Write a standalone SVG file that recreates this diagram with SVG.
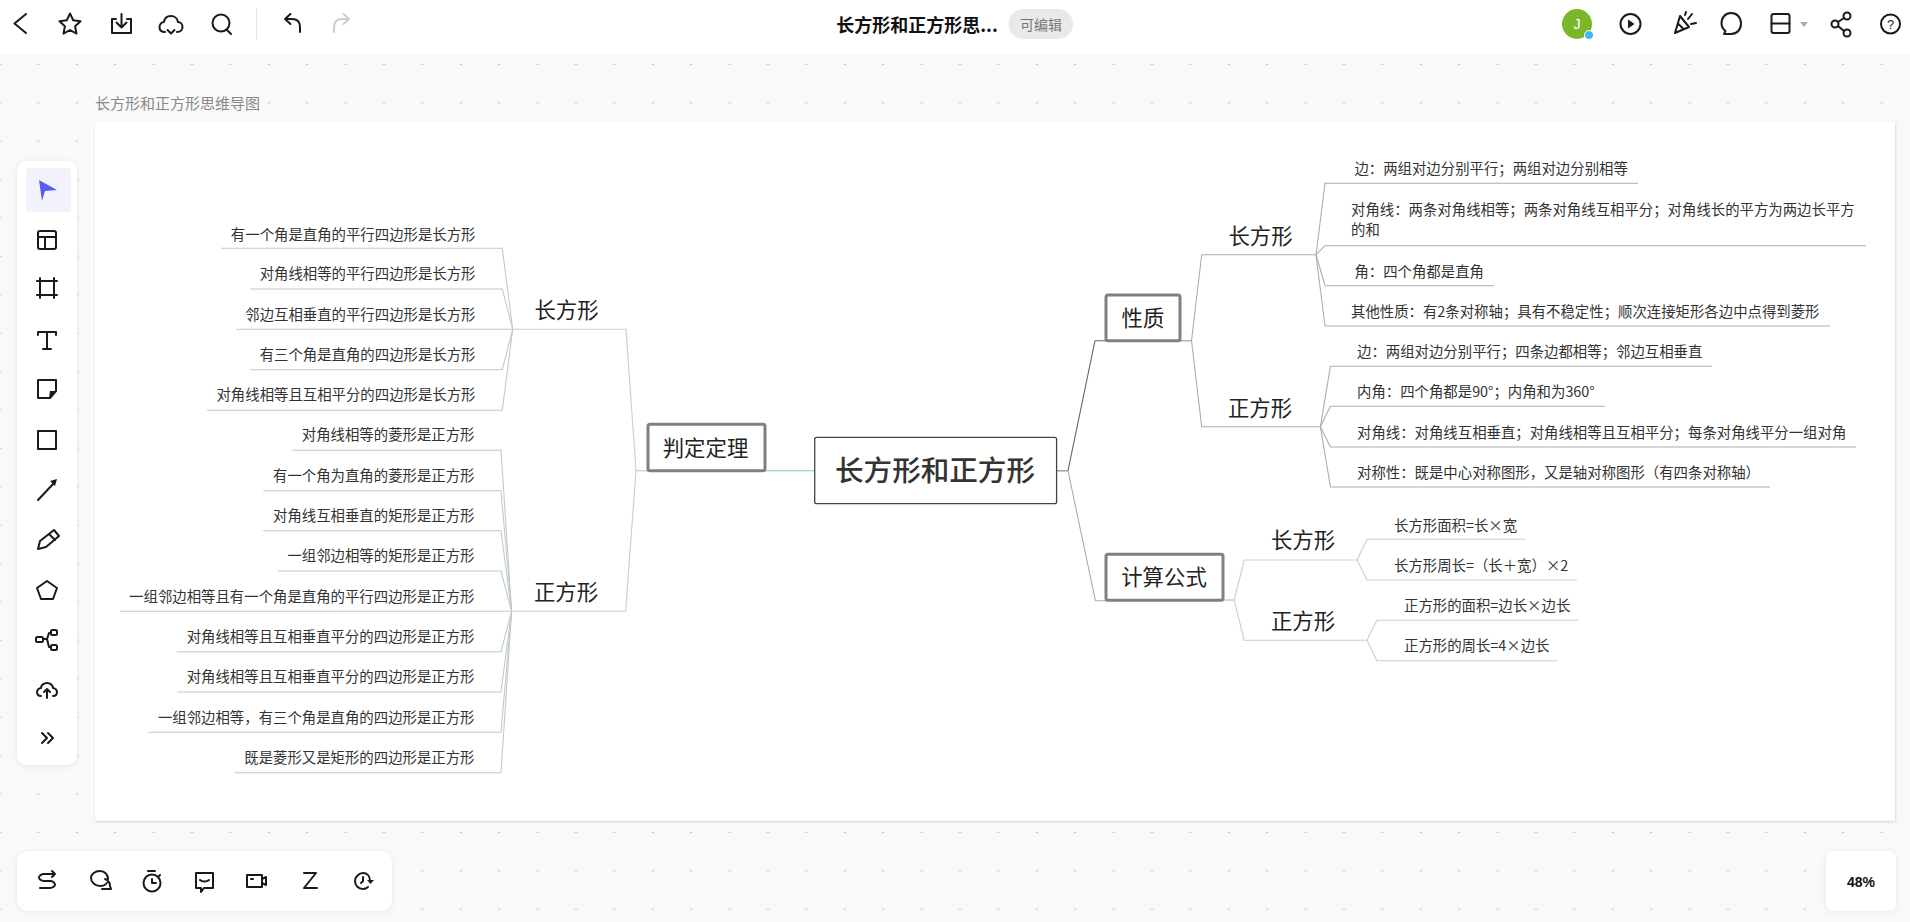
<svg xmlns="http://www.w3.org/2000/svg" width="1910" height="922" viewBox="0 0 1910 922">
<style>
text{font-family:"Noto Sans CJK SC","Liberation Sans",sans-serif;fill:#333;dominant-baseline:central}
.leaf{font-size:14.4px;transform:translateY(-1.8px)}
.end{text-anchor:end}
.mid{text-anchor:middle}
.sub{font-size:21.4px;text-anchor:middle;fill:#222;transform:translateY(-1.8px)}
.top{font-size:21.4px;text-anchor:middle;fill:#222;transform:translateY(-1.5px)}
.box{fill:#fff;stroke:#808080;stroke-width:3}
.root{fill:#fff;stroke:#444;stroke-width:1.3}
.c{fill:none;stroke-width:1.1;stroke-linejoin:round}
.lg{stroke:#c0cbc7}
.lt{stroke:#8fc4b2}
.gr{stroke:#adadad}
.gl{stroke:#cdcdcd}
.dk{stroke:#666}
.ic{fill:none;stroke:#1a1a1a;stroke-width:2;stroke-linecap:round;stroke-linejoin:round}
.ft{fill:#1a1a1a;stroke:none}
.panel{fill:#fff;filter:url(#sh)}
</style>
<defs>
<pattern id="dots" x="0" y="26.6" width="38.4" height="38.4" patternUnits="userSpaceOnUse"><rect x="37.2" y="37.2" width="2.4" height="2.4" fill="#c6c6c6"/><rect x="-1.2" y="37.2" width="2.4" height="2.4" fill="#c6c6c6"/></pattern>
<filter id="sh" x="-20%" y="-20%" width="140%" height="140%"><feDropShadow dx="0" dy="1" stdDeviation="3" flood-color="#000" flood-opacity="0.07"/></filter>
<filter id="sheetsh" x="-2%" y="-2%" width="104%" height="104%"><feDropShadow dx="0.5" dy="1" stdDeviation="1" flood-color="#000" flood-opacity="0.18"/></filter>
</defs>
<rect width="1910" height="922" fill="#f9f9f9"/>
<rect y="54" width="1910" height="868" fill="url(#dots)"/>
<g id="topbar">
<rect width="1910" height="54" fill="#fff"/>
<path class="ic" d="M26 14L14.500 23.500L26 33"/>
<path class="ic" d="M70 13.500l3.200 6.800 7.300.9-5.400 5.100 1.400 7.300-6.500-3.600-6.500 3.600 1.400-7.300-5.400-5.100 7.300-.9z"/>
<path class="ic" d="M116 19h-4v14h19V19h-4M121.500 14v13M116.500 22.500l5 5 5-5"/>
<path class="ic" d="M165 32c-4 0-5.500-2.500-5.500-5s2-5 4.500-5c.5-4 3.500-6 7-6s6.500 2.500 7 6c2.500 0 4.500 2.200 4.500 5s-2 5-5.500 5M167.500 30l3.500 3.500 3.500-3.500"/>
<circle class="ic" cx="221" cy="23" r="8.500"/><path class="ic" d="M227 30l4 4"/>
<path d="M256.500 8v32" stroke="#e8e8e8" stroke-width="1"/>
<path class="ic" d="M300 32v-5c0-5-3-8-8-8h-7M290.500 14l-5.500 5 5.500 5"/>
<path class="ic" style="stroke:#ccc" d="M334 32v-5c0-5 3-8 8-8h7M343.500 14l5.500 5-5.500 5"/>
<text x="917" y="24" class="mid" style="font-size:18px;font-weight:700;fill:#111">长方形和正方形思...</text>
<rect x="1008.500" y="9" width="64.500" height="30" rx="15" fill="#e9e9e9"/>
<text x="1041" y="24" class="mid" style="font-size:14px;fill:#777">可编辑</text>
<circle cx="1577" cy="24" r="15" fill="#7ab82a"/>
<text x="1577" y="24" class="mid" style="font-size:14px;fill:#fff;font-family:'Liberation Sans',sans-serif">J</text>
<circle cx="1589" cy="35" r="4.500" fill="#3fb8f0" stroke="#fff"/>
<circle class="ic" cx="1630.500" cy="24" r="10"/><path class="ft" d="M1628 19.500l6.500 4.500-6.500 4.500z"/>
<path class="ic" d="M1675 33l5-17 9 11zM1678.500 24l5 5M1688 19l4-5M1691 24l5-1M1685 15l1-3"/>
<path class="ic" d="M1731 13c6 0 10 4.500 10 10.500s-4 10.500-10 10.500h-7l1.500-3c-2.500-2-4-4.500-4-7.500 0-6 4-10.500 9.500-10.500z"/>
<rect class="ic" x="1771.500" y="14" width="18" height="19" rx="2"/><path class="ic" d="M1771.500 23.500h18"/>
<path d="M1800 22h8l-4 5z" fill="#aaa"/>
<circle class="ic" cx="1847" cy="16" r="3.500"/><circle class="ic" cx="1835" cy="24" r="3.500"/><circle class="ic" cx="1847" cy="33" r="3.500"/><path class="ic" d="M1844 18l-6 4M1838 26l6 5"/>
<circle class="ic" cx="1890.500" cy="24" r="9.500"/>
<text x="1890.500" y="24" class="mid" style="font-size:13px;fill:#1a1a1a;font-family:'Liberation Sans',sans-serif">?</text>
</g>
<text id="canvas-title" x="95" y="102" style="font-size:15px;fill:#888">长方形和正方形思维导图</text>
<rect id="sheet" x="95" y="121.700" width="1800" height="699" fill="#fff" filter="url(#sheetsh)"/>
<g id="connectors">
<path class="c lt" d="M764.800 470.700H814.700"/>
<path class="c gl" d="M648 470.700H636L626 329.300H512.700"/>
<path class="c gl" d="M648 470.700H636L625.600 611.300H511.600"/>
<path class="c lg" d="M512.700 329.300L502.300 248.300H221"/>
<path class="c lg" d="M512.700 329.300L502.300 289H250"/>
<path class="c lg" d="M512.700 329.300H236"/>
<path class="c lg" d="M512.700 329.300L502.300 369.700H250"/>
<path class="c lg" d="M512.700 329.300L502.300 410.300H207"/>
<path class="c lg" d="M511.600 611.300L501 450.300H292.400"/>
<path class="c lg" d="M511.600 611.300L501 490.700H263.300"/>
<path class="c lg" d="M511.600 611.300L501 530.700H263"/>
<path class="c lg" d="M511.600 611.300L501 571H277.700"/>
<path class="c lg" d="M511.600 611.300H120"/>
<path class="c lg" d="M511.600 611.300L501 651.700H176.600"/>
<path class="c lg" d="M511.600 611.300L501 692H177"/>
<path class="c lg" d="M511.600 611.300L501 732.300H148"/>
<path class="c lg" d="M511.600 611.300L501 772.700H234.500"/>
<path class="c dk" d="M1056.600 470.700H1068L1095 340.700H1106"/>
<path class="c gr" d="M1056.600 470.700H1068L1095.400 600.700H1106"/>
<path class="c gr" d="M1180 340.700H1191.500L1201.700 254.700H1316"/>
<path class="c gr" d="M1180 340.700H1191.500L1201.700 426.700H1320.400"/>
<path class="c gr" d="M1316 254.700L1325 183.300H1638"/>
<path class="c gr" d="M1316 254.700L1325 245.700H1866"/>
<path class="c gr" d="M1316 254.700L1325 285.700H1494"/>
<path class="c gr" d="M1316 254.700L1325 326H1830"/>
<path class="c gr" d="M1320.400 426.700L1330.400 366.300H1712"/>
<path class="c gr" d="M1320.400 426.700L1330.400 406.300H1604.800"/>
<path class="c gr" d="M1320.400 426.700L1330.400 447H1856"/>
<path class="c gr" d="M1320.400 426.700L1330.400 487H1770"/>
<path class="c gl" d="M1223 600H1234.200L1244.200 560H1357"/>
<path class="c gl" d="M1223 600H1234.200L1244.200 640.300H1367"/>
<path class="c gl" d="M1357 560L1367 539.300H1525.400"/>
<path class="c gl" d="M1357 560L1367 580H1576.800"/>
<path class="c gl" d="M1367 640.300L1376.800 620.300H1578.500"/>
<path class="c gl" d="M1367 640.300L1376.800 660.700H1557.600"/>
</g>
<g id="n-root"><rect class="root" x="814.700" y="437.300" width="241.900" height="66.400" rx="2"/><text x="835" y="468.800" style="font-size:28.600px;font-weight:500;fill:#333" textLength="200">长方形和正方形</text></g>
<g id="n-judge"><rect class="box" x="648" y="424.300" width="117" height="46.400" rx="2"/><text class="top" x="705.500" y="447.700">判定定理</text></g>
<g id="n-prop"><rect class="box" x="1106" y="295" width="74" height="45.700" rx="2"/><text class="top" x="1143" y="317.700">性质</text></g>
<g id="n-calc"><rect class="box" x="1106" y="554.300" width="117" height="46" rx="2"/><text class="top" x="1164" y="576.700">计算公式</text></g>
<g id="n-judge-rect"><text class="sub" x="566.500" y="310">长方形</text></g>
<g id="n-judge-square"><text class="sub" x="566" y="592.300">正方形</text></g>
<g id="n-prop-rect"><text class="sub" x="1260.500" y="236.700">长方形</text></g>
<g id="n-prop-square"><text class="sub" x="1260" y="408.300">正方形</text></g>
<g id="n-calc-rect"><text class="sub" x="1303" y="540.700">长方形</text></g>
<g id="n-calc-square"><text class="sub" x="1303" y="621">正方形</text></g>
<g id="judge-rect-leaves">
<g id="l1"><text class="leaf end" x="475.500" y="235">有一个角是直角的平行四边形是长方形</text></g>
<g id="l2"><text class="leaf end" x="475.500" y="274.300">对角线相等的平行四边形是长方形</text></g>
<g id="l3"><text class="leaf end" x="475.500" y="315">邻边互相垂直的平行四边形是长方形</text></g>
<g id="l4"><text class="leaf end" x="475.500" y="355.700">有三个角是直角的四边形是长方形</text></g>
<g id="l5"><text class="leaf end" x="475.500" y="395.700">对角线相等且互相平分的四边形是长方形</text></g>
</g>
<g id="judge-square-leaves">
<g id="l6"><text class="leaf end" x="474.500" y="435.700">对角线相等的菱形是正方形</text></g>
<g id="l7"><text class="leaf end" x="474.500" y="476.700">有一个角为直角的菱形是正方形</text></g>
<g id="l8"><text class="leaf end" x="474.500" y="516.700">对角线互相垂直的矩形是正方形</text></g>
<g id="l9"><text class="leaf end" x="474.500" y="556.700">一组邻边相等的矩形是正方形</text></g>
<g id="l10"><text class="leaf end" x="474.500" y="597.700">一组邻边相等且有一个角是直角的平行四边形是正方形</text></g>
<g id="l11"><text class="leaf end" x="474.500" y="637.700">对角线相等且互相垂直平分的四边形是正方形</text></g>
<g id="l12"><text class="leaf end" x="474.500" y="677.700">对角线相等且互相垂直平分的四边形是正方形</text></g>
<g id="l13"><text class="leaf end" x="474.500" y="718">一组邻边相等，有三个角是直角的四边形是正方形</text></g>
<g id="l14"><text class="leaf end" x="474.500" y="758">既是菱形又是矩形的四边形是正方形</text></g>
</g>
<g id="prop-rect-leaves">
<g id="r1"><text class="leaf" x="1354.400" y="169.300">边：两组对边分别平行；两组对边分别相等</text></g>
<g id="r2"><text class="leaf" x="1351" y="210.700">对角线：两条对角线相等；两条对角线互相平分；对角线长的平方为两边长平方</text><text class="leaf" x="1351" y="230.700">的和</text></g>
<g id="r3"><text class="leaf" x="1354.400" y="272.300">角：四个角都是直角</text></g>
<g id="r4"><text class="leaf" x="1351" y="312.700">其他性质：有2条对称轴；具有不稳定性；顺次连接矩形各边中点得到菱形</text></g>
</g>
<g id="prop-square-leaves">
<g id="s1"><text class="leaf" x="1357" y="352.300">边：两组对边分别平行；四条边都相等；邻边互相垂直</text></g>
<g id="s2"><text class="leaf" x="1357" y="392.700">内角：四个角都是90°；内角和为360°</text></g>
<g id="s3"><text class="leaf" x="1357" y="433.300">对角线：对角线互相垂直；对角线相等且互相平分；每条对角线平分一组对角</text></g>
<g id="s4"><text class="leaf" x="1357" y="473.300">对称性：既是中心对称图形，又是轴对称图形（有四条对称轴）</text></g>
</g>
<g id="calc-leaves">
<g id="c1"><text class="leaf" x="1394" y="526">长方形面积=长×宽</text></g>
<g id="c2"><text class="leaf" x="1394" y="566">长方形周长=（长＋宽）×2</text></g>
<g id="c3"><text class="leaf" x="1404" y="606">正方形的面积=边长×边长</text></g>
<g id="c4"><text class="leaf" x="1404" y="646.700">正方形的周长=4×边长</text></g>
</g>
<g id="left-toolbar">
<rect class="panel" x="17" y="161" width="60" height="604" rx="10"/>
<rect x="26" y="168" width="45" height="44" rx="4" fill="#f2f2fb"/>
<path d="M39 180L57 190L45 191L42 201z" fill="#5a5cf5"/>
<rect class="ic" x="38" y="231" width="18" height="18" rx="2"/><path class="ic" d="M38 237h18M45 237v12"/>
<path class="ic" d="M40 278v20M54 278v20M37 281h20M37 295h20"/>
<path class="ic" d="M38 335v-3h18v3M47 332v17M43 349h8"/>
<path class="ic" d="M38 380h18v11l-6 7H38z"/><path class="ft" d="M49 398l1-7h6z"/>
<rect class="ic" x="38" y="431" width="18" height="18"/>
<path class="ic" d="M38 500L55 482"/><path class="ft" d="M50 481l7-2-2 7z"/>
<path class="ic" d="M38 549l2-8 14-11 5 6-13 11zM49 534l6 6"/>
<path class="ic" d="M47 581l10 7-4 11H41l-4-11z"/>
<rect class="ic" x="36" y="637" width="7" height="5" rx="1.500"/><rect class="ic" x="51" y="630" width="6" height="5" rx="1.500"/><rect class="ic" x="51" y="645" width="6" height="5" rx="1.500"/><path class="ic" d="M43 639h4l2-6h2M47 639l2 8h2"/>
<path class="ic" d="M41 696c-3 0-4-2-4-4s2-4 4-4c0-3 3-5 6-5s6 2 6 5c2 0 4 2 4 4s-1 4-4 4M47 698v-9M44 692l3-3 3 3"/>
<path class="ic" d="M42 733l5 5-5 5M48 733l5 5-5 5"/>
</g>
<g id="bottom-toolbar">
<rect class="panel" x="17" y="851" width="375" height="60" rx="12"/>
<path class="ic" d="M55 874H44c-3 0-5 2-5 3.500s2 3.500 5 3.500h6c3 0 5 2 5 3.500s-2 3.500-5 3.500H40M52 871l3 3-3 3"/>
<path class="ic" d="M100 871c-5 0-9 3-9 7s4 8 9 8c5 0 8-3 8-7s-3-8-8-8zM105 879c3 1 5 4 5 7l1 3h-9"/>
<circle class="ic" cx="152" cy="883" r="8.500"/><path class="ic" d="M148 871h7M152 879v4h4M160 875l-2 2"/>
<path class="ic" d="M196 873h17v15h-9l-3 4v-4h-5zM200 880c2 2 7 2 9 0"/>
<rect class="ic" x="247" y="875" width="15" height="12"/><path class="ic" d="M262 879l4-2v8l-4-2M251 879h2"/>
<path class="ic" d="M304 873h12l-12 15h13"/>
<path class="ic" d="M370 881c0-5-3-8-7-8s-8 4-8 8 3 8 8 8c2 0 4-1 5-2M363 877v4l-2 2"/><path class="ft" d="M367 880h7l-3.500 4z"/>
</g>
<g id="zoom-panel">
<rect class="panel" x="1826" y="851" width="70" height="60" rx="8"/>
<text x="1861" y="882" class="mid" style="font-size:14px;font-weight:700;fill:#111;font-family:'Liberation Sans',sans-serif">48%</text>
</g>
</svg>
